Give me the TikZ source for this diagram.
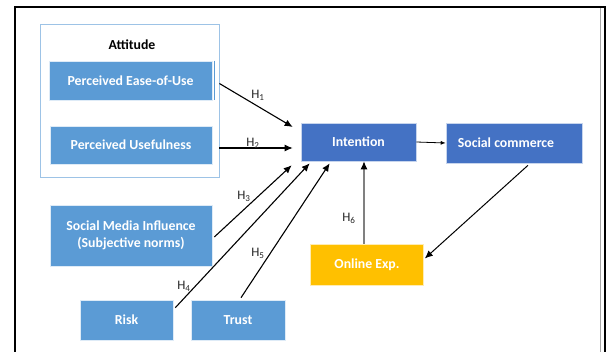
\documentclass[tikz,border=0pt]{standalone}
\usepackage{fontspec}
\setmainfont{Carlito}
\usetikzlibrary{arrows.meta,calc}
\definecolor{lblue}{HTML}{5B9BD5}
\definecolor{dblue}{HTML}{4472C4}
\definecolor{gold}{HTML}{FFC000}
\definecolor{frameblue}{HTML}{9DC3E6}
\begin{document}
\begin{tikzpicture}[x=1pt,y=-1pt,
  box/.style={rectangle,inner sep=0pt,text=white,font=\fontsize{13.8}{16.5}\selectfont\bfseries,align=center},
  lbox/.style={box,fill=lblue,draw=white!80!lblue,line width=0.6pt},
  dbox/.style={box,fill=dblue,draw=white!70!dblue,line width=0.6pt},
  conn/.style={line width=1.1pt,-{Latex[length=8pt,width=7pt]}},
  hlab/.style={font=\fontsize{13}{14}\selectfont,text=black!85,inner sep=0pt}]
\useasboundingbox (0,0) rectangle (608,352);
\fill[white] (0,0) rectangle (608,352);
\draw[black!35,line width=0.5pt] (600,7) -- (600,352);
\draw[line width=1.3pt] (15,352) -- (15,7) -- (605,7) -- (605,352);
% attitude group
\node[draw=frameblue,line width=0.8pt,minimum width=179pt,minimum height=153pt,inner sep=0pt] (att) at (129.5,100.5) {};
\node[font=\fontsize{13.8}{16}\selectfont\bfseries,inner sep=0pt] (attl) at (132,45) {Attitude};
\node[lbox,minimum width=163pt,minimum height=39pt] (peou) at (130.5,80.5) {Perceived Ease-of-Use};
\draw[lblue,line width=1pt] ($(peou.north east)+(2.5,0)$) -- ($(peou.south east)+(2.5,0)$);
\node[lbox,minimum width=162pt,minimum height=38pt] (pu) at (131,145) {Perceived Usefulness};
\node[lbox,minimum width=162pt,minimum height=61pt] (smi) at (131,235.5) {Social Media Influence\\(Subjective norms)};
\node[lbox,minimum width=93pt,minimum height=40pt] (risk) at (126.5,320) {Risk};
\node[lbox,minimum width=94pt,minimum height=40pt] (trust) at (238,320) {Trust};
\node[dbox,minimum width=115pt,minimum height=38pt] (int) at (358.5,142) {Intention};
\node[dbox,minimum width=136pt,minimum height=40pt] (sc) at (514,143) {Social commerce\hspace*{16pt}};
\node[box,fill=gold,draw=white!70!gold,line width=0.6pt,minimum width=113pt,minimum height=41pt] (oe) at (367,264.5) {Online Exp.};
% connectors
\draw[conn] ($(att.east |- peou.east)+(0,3)$) -- ($(int.west)+(-8,-15)$);
\draw[conn] ($(att.east |- int.west)+(0,6)$) -- ($(int.west)+(-8,6)$);
\draw[conn] ($(smi.east)+(2,1.5)$) -- ($(int.south west)+(-9,4)$);
\draw[conn] ($(risk.north east)+(2,8)$) -- ($(int.south west)+(9,2)$);
\draw[conn] ($(trust.north)+(3,-2)$) -- ($(int.south west)+(29,2)$);
\coordinate (h6) at ($(oe.north)+(-3,0)$);
\draw[black!50,line width=1.1pt,-{Latex[black,length=8pt,width=7pt]}] (h6) -- (h6 |- int.south);
\draw[line width=0.8pt,-{Latex[length=5pt,width=4pt]}] (int.east) -- (sc.west);
\draw[line width=1pt,-{Latex[length=8pt,width=7pt]}] ($(sc.south)+(14,2)$) -- ($(oe.east)+(1,-6)$);
% labels
\node[hlab] (l1) at (258,95) {H\textsubscript{1}};
\node[hlab] (l2) at (253,143) {H\textsubscript{2}};
\node[hlab] (l3) at (244,196) {H\textsubscript{3}};
\node[hlab] (l4) at (184,286) {H\textsubscript{4}};
\node[hlab] (l5) at (258,253) {H\textsubscript{5}};
\node[hlab] (l6) at (349,218) {H\textsubscript{6}};
\end{tikzpicture}
\end{document}
